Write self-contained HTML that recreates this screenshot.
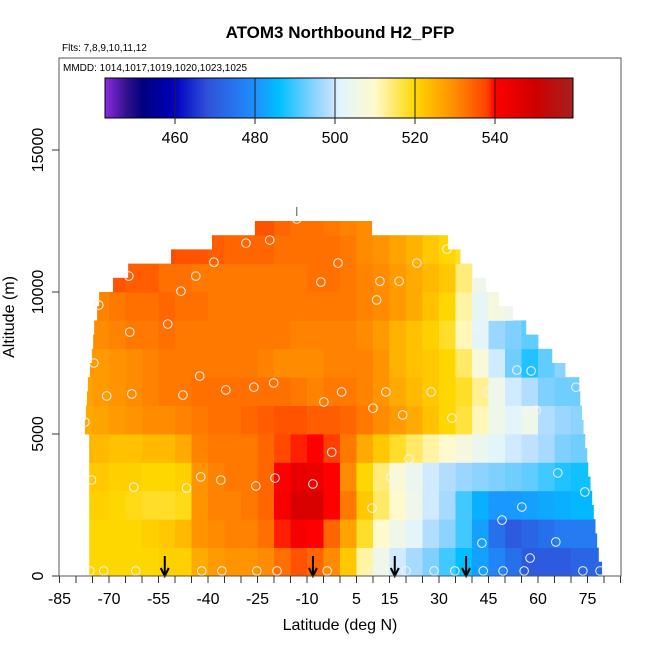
<!DOCTYPE html>
<html><head><meta charset="utf-8"><style>
body{margin:0;background:#fff}
svg text{font-family:"Liberation Sans",sans-serif}
</style></head><body>
<svg id="chart" width="650" height="650" viewBox="0 0 650 650" xmlns="http://www.w3.org/2000/svg">
<text x="340" y="38" text-anchor="middle" font-size="17" font-weight="bold">ATOM3 Northbound H2_PFP</text>
<text x="62" y="51" font-size="10">Flts: 7,8,9,10,11,12</text>
<g id="cells"></g>
<g id="pts"></g>
<g id="arrows"></g>
<rect x="59" y="58" width="562" height="518" fill="none" stroke="#555" stroke-width="1"/>
<text x="63" y="71" font-size="10">MMDD: 1014,1017,1019,1020,1023,1025</text>
<defs><linearGradient id="cbg" x1="0" x2="1" y1="0" y2="0"></linearGradient></defs>
<g id="cbar"></g>
<g id="xaxis"></g>
<g id="yaxis"></g>
<text x="340" y="630" text-anchor="middle" font-size="16">Latitude (deg N)</text>
<text transform="translate(14,317) rotate(-90)" text-anchor="middle" font-size="16">Altitude (m)</text>
</svg>
<script>
const colLats=[-77.5,-72.5,-67.5,-62.5,-57.5,-52.5,-47.5,-42.5,-37.5,-32.5,-27.5,-22.5,-17.5,-12.5,-7.5,-2.5,2.5,7.5,12.5,17.5,22.5,27.5,32.5,37.5,42.5,47.5,52.5,57.5,62.5,67.5,72.5,77.5];
const altEdges=[0,1000,2000,3000,4000,5000,6000,7000,8000,9000,10000,11000,12000,13000];
const N=null;
const h2Rows=[
[520,520,520,520,520,521,521,526,528,529,529,530,533,536,534,530,522,512,505,500,497,494,490,486,482,478,474,470,470,470,472,472],
[520,520,520,520,521,522,524,529,530,531,531,533,539,542,540,534,527,518,510,505,502,498,495,490,482,474,470,472,474,476,476,476],
[521,521,520,519,518,518,519,529,531,531,532,534,542,548,548,540,532,522,515,510,505,500,497,490,484,481,481,482,483,484,485,485],
[522,522,521,521,520,520,521,529,531,532,532,534,540,545,544,540,530,520,514,508,504,500,498,496,495,494,493,492,490,488,487,487],
[525,524,523,523,524,524,526,531,532,532,532,534,537,539,540,538,532,526,522,518,515,512,510,507,504,502,500,499,497,494,493,493],
[526,527,528,529,530,530,531,532,533,533,534,535,536,536,535,535,534,532,530,528,526,523,520,517,511,505,502,505,498,496,495,495],
[527,528,529,530,531,532,532,533,533,533,533,533,533,532,531,532,532,531,529,526,524,522,520,518,513,505,500,498,494,493,493,N],
[528,528,529,530,531,532,532,532,532,532,532,531,530,530,530,531,531,531,529,525,523,522,520,515,508,500,493,488,492,495,N,N],
[530,530,531,532,532,533,532,532,532,532,532,532,532,531,531,531,531,530,528,525,523,521,518,511,502,496,494,492,N,N,N,N],
[531,531,532,533,533,534,533,533,532,532,532,532,532,532,532,532,532,531,530,528,526,523,520,512,503,507,505,N,N,N,N,N],
[N,N,536,535,535,533,533,532,532,532,532,532,532,532,533,533,532,531,530,528,526,524,522,514,505,N,N,N,N,N,N,N],
[N,N,N,N,N,537,536,536,535,534,534,534,533,533,533,533,532,530,529,527,525,522,520,518,N,N,N,N,N,N,N,N],
[N,N,N,N,N,N,N,N,N,N,536,536,534,533,533,532,531,530,N,N,N,N,N,N,N,N,N,N,N,N,N,N]
];
const bandAlt=[0,500,1000,1500,2000,2500,3000,3500,4000,4500,5000,5500,6000,6500,7000,7500,8000,8500,9000,9500,10000,10500,11000,11500,12000,12500];
const bandLatMin=[-76,-76,-76,-76,-76,-76,-76,-76,-76,-76,-77.3,-77,-76.7,-76.4,-75.8,-75.2,-74.8,-74.5,-73.6,-73,-68.8,-64.2,-51.2,-38.8,-25.8];
const bandLatMax=[79.3,78.3,77.8,77.3,76.8,76.3,75.8,75.1,74.8,74.2,73.7,73.2,72.7,72.4,68.2,64.2,60.3,56.3,52.3,48.1,44.2,40.2,36.4,32.6,9.6];
const ptLat=[-13.1,-28.5,-21.3,-38.2,-0.6,-64,-43.7,-5.8,-48.2,-73.1,-52.2,-63.7,-74.6,-42.5,11.1,12.1,17.9,23.3,32.4,41.2,53.6,57.9,71.5,-77.3,-70.7,-63.1,-47.6,-34.6,-26.1,-20.1,-4.9,0.5,13.9,27.6,44.8,10,19,33.9,57.3,59.4,-2.5,20.9,15.4,-75.3,-62.5,-46.5,-42.2,-36.1,-25.5,-19.7,-8.2,66,74.2,9.7,55.1,49.1,43,65.4,57.6,-75.8,-71.6,-61.9,-41.9,-35.8,-25.2,-19.1,-3.9,9.7,20,28.5,34.8,43.4,49.4,55.8,73.6,78.8];
const ptAlt=[12570,11720,11830,11050,11020,10560,10560,10350,10030,9540,8870,8590,7500,7040,9720,10380,10380,11020,11510,8800,7250,7220,6650,5420,6340,6410,6370,6550,6650,6800,6130,6480,6480,6480,6480,5910,5670,5560,5770,5840,4360,4120,3480,3380,3130,3100,3490,3380,3170,3450,3240,3630,2960,2390,2430,1970,1160,1200,630,180,180,180,180,180,180,180,180,180,180,180,180,180,180,180,180,180];
const arrowLats=[-53.1,-8.2,16.6,38.2];
const xTicks=[-85,-70,-55,-40,-25,-10,5,15,30,45,60,75];
const yTicks=[0,5000,10000,15000];
const cbTicks=[460,480,500,520,540];

const X=l=>59.5+(l+85)*3.3;
const Y=a=>576-a*0.0284;
const CB=v=>105+(v-442.5)*4;
const stops=[[442.5,'#8a2be2'],[448,'#30108a'],[452,'#000080'],[460,'#0000c0'],[468,'#3050d8'],[480,'#1e90ff'],[486,'#00bfff'],[494,'#80d0ff'],[499,'#c0e0ff'],[501,'#e0f4ff'],[510,'#fffacd'],[520,'#ffd700'],[530,'#ff8c00'],[538,'#ff4000'],[540,'#ff0000'],[550,'#d00000'],[559.5,'#a52020']];
const hx=h=>[1,3,5].map(i=>parseInt(h.substr(i,2),16));
function col(v){
  if(v<=stops[0][0])return stops[0][1];
  for(let i=1;i<stops.length;i++){if(v<=stops[i][0]){const a=hx(stops[i-1][1]),b=hx(stops[i][1]);const t=(v-stops[i-1][0])/(stops[i][0]-stops[i-1][0]);return 'rgb('+a.map((c,k)=>Math.round(c+(b[k]-c)*t)).join(',')+')';}}
  return stops[stops.length-1][1];
}
const NS='http://www.w3.org/2000/svg';
function mk(t,at,p){const e=document.createElementNS(NS,t);for(const k in at)e.setAttribute(k,at[k]);p.appendChild(e);return e;}
const cells=document.getElementById('cells');
for(let b=0;b<bandLatMin.length;b++){
  const a0=bandAlt[b],a1=bandAlt[b+1];
  let r=0;while(r<h2Rows.length-1&&altEdges[r+1]<=a0)r++;
  h2Rows[r].forEach((v,c)=>{if(v===null)return;
    const l0=Math.max(colLats[c]-2.5,bandLatMin[b]),l1=Math.min(colLats[c]+2.5,bandLatMax[b]);
    if(l1<=l0)return;
    const e=mk('rect',{x:X(l0),y:Y(a1),width:X(l1)-X(l0)+0.4,height:Y(a0)-Y(a1)+0.4,fill:col(v)},cells);
    
    
  });
}
const pts=document.getElementById('pts');
ptLat.forEach((l,i)=>{const e=mk('circle',{cx:X(l),cy:Y(ptAlt[i]),r:4.3,fill:'none',stroke:'#f4f4f4','stroke-width':1},pts);
  
  
});
mk('line',{x1:X(ptLat[0]),x2:X(ptLat[0]),y1:Y(ptAlt[0])-12,y2:Y(ptAlt[0])-3,stroke:'#555','stroke-width':1},pts);
const ar=document.getElementById('arrows');
arrowLats.forEach(l=>{const g=mk('g',{},ar);
  
  
  const x=X(l);mk('line',{x1:x,x2:x,y1:556,y2:575,stroke:'#000','stroke-width':2},g);
  mk('path',{d:`M${x-4},568 L${x},576 L${x+4},568`,fill:'none',stroke:'#000','stroke-width':2},g);});
const gr=document.getElementById('cbg');
stops.forEach(s=>mk('stop',{offset:(s[0]-442.5)/117,'stop-color':s[1]},gr));
const cb=document.getElementById('cbar');
mk('rect',{x:105,y:78,width:468,height:40,fill:'url(#cbg)',stroke:'#000','stroke-width':1},cb);
cbTicks.forEach(v=>{const x=CB(v);mk('line',{x1:x,x2:x,y1:78,y2:124,stroke:'#222','stroke-width':1},cb);
  const t=mk('text',{x:x,y:143,'text-anchor':'middle','font-size':16},cb);t.textContent=v;
  
  });
const xa=document.getElementById('xaxis');
for(let l=-85;l<=85;l+=5){const x=X(l);mk('line',{x1:x,x2:x,y1:576,y2:583,stroke:'#333','stroke-width':1},xa);}
xTicks.forEach(l=>{const t=mk('text',{x:X(l),y:604,'text-anchor':'middle','font-size':16},xa);t.textContent=l;
  
  });
const ya=document.getElementById('yaxis');
yTicks.forEach(a=>{const y=Y(a);mk('line',{x1:52,x2:59,y1:y,y2:y,stroke:'#333','stroke-width':1},ya);
  const t=mk('text',{transform:`translate(43,${y}) rotate(-90)`,'text-anchor':'middle','font-size':16},ya);t.textContent=a;
  
  });
</script>
</body></html>
